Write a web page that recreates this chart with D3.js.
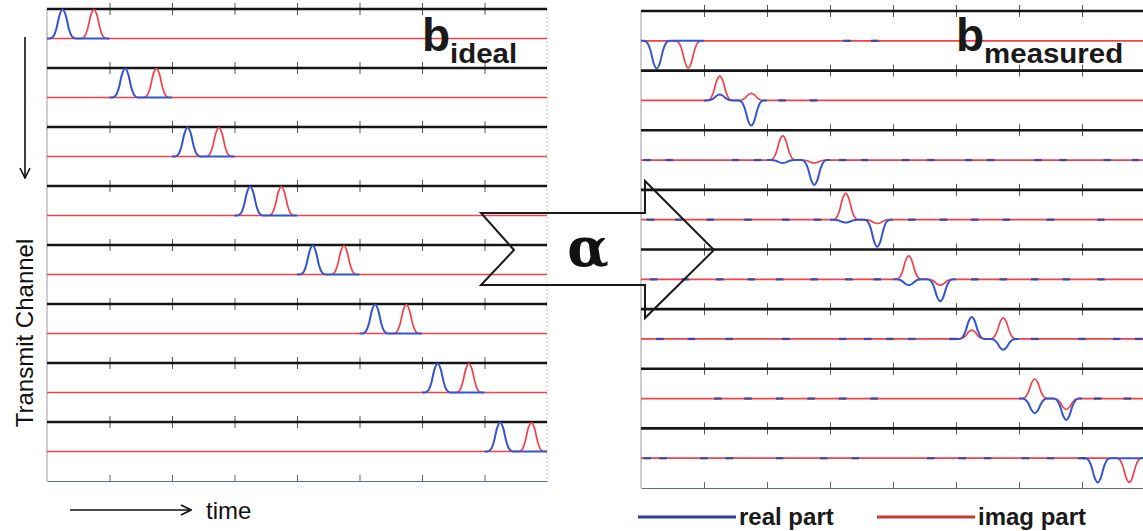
<!DOCTYPE html>
<html>
<head>
<meta charset="utf-8">
<script src="https://cdn.jsdelivr.net/npm/d3@7"></script>
<style>
  body { margin: 0; background: #fff; }
  svg { display: block; }
</style>
</head>
<body>
<div id="chart"></div>
<script>
// ---- data ----
const channels = [0, 1, 2, 3, 4, 5, 6, 7];
const timeTicks = [1, 2, 3, 4, 5, 6, 7];
const timeDomain = [0, 8];

// pulse template (offset in time units -> relative height)
const pulseOffsets = [-0.2, -0.15, -0.1, -0.05, 0, 0.05, 0.1, 0.15, 0.2];
const pulseShape = [0, 0.07, 0.34, 0.8, 1, 0.8, 0.34, 0.07, 0];

// ideal: one real and one imag pulse per channel
const idealRealCenter = [0.25, 1.25, 2.25, 3.25, 4.25, 5.25, 6.25, 7.25];
const idealImagCenter = [0.75, 1.75, 2.75, 3.75, 4.75, 5.75, 6.75, 7.75];
const idealAmp = [1, 1, 1, 1, 1, 1, 1, 1];

// measured: [center, amplitude] per channel
const measuredReal = [
  [[0.25, -0.95]],
  [[1.25, 0.2], [1.75, -0.86]],
  [[2.25, -0.1], [2.75, -0.85]],
  [[3.25, -0.1], [3.75, -0.93]],
  [[4.25, -0.2], [4.75, -0.75]],
  [[5.25, 0.75], [5.75, -0.37]],
  [[6.25, -0.5], [6.75, -0.73]],
  [[7.25, -0.83]]
];
const measuredImag = [
  [[0.75, -0.93]],
  [[1.25, 0.83], [1.75, 0.24]],
  [[2.25, 0.83], [2.75, -0.1]],
  [[3.25, 0.9], [3.75, -0.13]],
  [[4.25, 0.8], [4.75, -0.2]],
  [[5.25, 0.3], [5.75, 0.72]],
  [[6.25, 0.67], [6.75, -0.37]],
  [[7.75, -0.83]]
];
// small residual bits of the real part along the baseline
const measuredBlips = [
  [3.27, 3.71],
  [2.24, 2.74],
  [0.1, 0.45, 1.5, 1.85, 3.2, 3.55, 4.2, 4.6, 5.2, 5.55, 6.3, 6.7, 7.4, 7.85],
  [0.15, 0.6, 1.1, 1.7, 2.3, 2.8, 4.3, 4.8, 5.3, 5.8, 6.5, 7.3],
  [0.2, 0.7, 1.25, 1.75, 2.2, 2.75, 3.3, 3.75, 5.3, 5.75, 6.25, 6.75, 7.3],
  [0.3, 0.8, 1.4, 2.3, 3.2, 3.6, 3.95, 4.3, 4.95, 6.25, 7.0, 7.55, 7.9],
  [1.22, 1.7, 2.2, 2.7, 3.2, 3.7, 7.25, 7.72],
  [0.1, 0.35, 1.0, 1.4, 2.2, 2.9, 3.4, 4.6, 5.1, 5.5, 6.1, 6.5, 7.0]
];

const W = 1143, H = 531;
const STEP = 0.05;

const svg = d3.select('#chart').append('svg')
  .attr('width', W).attr('height', H)
  .style('font-family', 'Arial, "Liberation Sans", sans-serif');

// sample a set of pulses on a grid from t0 to t1 using the template
function sampleSeries(pulses, t0, t1) {
  const n = Math.round((t1 - t0) / STEP);
  const pts = [];
  for (let j = 0; j <= n; j++) {
    const t = t0 + j * STEP;
    let v = 0;
    pulses.forEach(([c, a]) => {
      const k = Math.round((t - c) / STEP) + 4;
      if (k >= 0 && k < pulseOffsets.length) v += a * pulseShape[k];
    });
    pts.push([t, v]);
  }
  return pts;
}

function drawPanel(x, yBand, realPulses, imagPulses, blips) {
  const g = svg.append('g');
  const bw = yBand.bandwidth();
  const yAmp = d3.scaleLinear().domain([-1.02, 1.02]).range([bw, 0]);
  const line = d3.line()
    .x(d => x(d[0]))
    .y(d => yAmp(d[1]))
    .curve(d3.curveMonotoneX);

  // left / right box edges
  const top = yBand.range()[0], bottom = yBand.range()[1];
  g.append('line')
    .attr('x1', x(0)).attr('x2', x(0)).attr('y1', top).attr('y2', bottom)
    .attr('stroke', '#9a9a9a').attr('stroke-width', 1);
  g.append('line')
    .attr('x1', x(8)).attr('x2', x(8)).attr('y1', top).attr('y2', bottom)
    .attr('stroke', '#c4c4c4').attr('stroke-width', 1)
    .attr('stroke-dasharray', '2,2');

  channels.forEach(ch => {
    const row = g.append('g').attr('transform', 'translate(0,' + yBand(ch) + ')');

    // ticks crossing the top border of each subplot
    row.append('g')
      .attr('transform', 'translate(0,-6)')
      .call(d3.axisBottom(x).tickValues(timeTicks).tickFormat('').tickSizeInner(12).tickSizeOuter(0))
      .call(a => a.select('.domain').remove())
      .call(a => a.selectAll('line').attr('stroke', '#555'));

    row.append('line')
      .attr('x1', x(0)).attr('x2', x(8))
      .attr('y1', 0).attr('y2', 0)
      .attr('stroke', '#151515').attr('stroke-width', 2.6);

    // imag part over the whole time range
    row.append('path')
      .datum(sampleSeries(imagPulses[ch], timeDomain[0], timeDomain[1]))
      .attr('d', line)
      .attr('fill', 'none')
      .attr('stroke', '#f0424c')
      .attr('stroke-width', 1.7);

    // real part only in the channel's window
    row.append('path')
      .datum(sampleSeries(realPulses[ch], ch, ch + 1))
      .attr('d', line)
      .attr('fill', 'none')
      .attr('stroke', '#3555cf')
      .attr('stroke-width', 2);

    if (blips) {
      row.selectAll('.blip')
        .data(blips[ch])
        .enter()
        .append('line')
        .attr('class', 'blip')
        .attr('x1', d => x(d - 0.06)).attr('x2', d => x(d + 0.06))
        .attr('y1', yAmp(0)).attr('y2', yAmp(0))
        .attr('stroke', '#2d45a8').attr('stroke-width', 2.4)
        .attr('stroke-opacity', 0.85);
    }
  });

  // bottom axis
  g.append('g')
    .attr('transform', 'translate(0,' + bottom + ')')
    .call(d3.axisTop(x).tickValues(timeTicks).tickFormat('').tickSizeInner(6).tickSizeOuter(0))
    .call(a => a.select('.domain').attr('stroke', '#5a6a9a'))
    .call(a => a.selectAll('line').attr('stroke', '#666'));
}

// left panel: ideal
const xL = d3.scaleLinear().domain(timeDomain).range([47, 547]);
const yL = d3.scaleBand().domain(channels).range([9, 481]);
drawPanel(
  xL, yL,
  idealRealCenter.map((c, i) => [[c, idealAmp[i]]]),
  idealImagCenter.map((c, i) => [[c, idealAmp[i]]]),
  null
);

// right panel: measured
const xR = d3.scaleLinear().domain(timeDomain).range([641, 1145]);
const yR = d3.scaleBand().domain(channels).range([11, 488]);
drawPanel(xR, yR, measuredReal, measuredImag, measuredBlips);

// arrow defs
svg.append('defs').append('marker')
  .attr('id', 'head')
  .attr('viewBox', '0 0 12 12')
  .attr('refX', 11).attr('refY', 6)
  .attr('markerWidth', 12).attr('markerHeight', 12)
  .attr('markerUnits', 'userSpaceOnUse')
  .attr('orient', 'auto')
  .append('path')
  .attr('d', 'M1,1 L11,6 L1,11')
  .attr('fill', 'none').attr('stroke', '#111').attr('stroke-width', 1.6);

// transmit channel arrow + label
svg.append('line')
  .attr('x1', 25).attr('x2', 25).attr('y1', 37).attr('y2', 178)
  .attr('stroke', '#111').attr('stroke-width', 1.6)
  .attr('marker-end', 'url(#head)');
svg.append('text')
  .attr('transform', 'translate(33,333) rotate(-90)')
  .attr('text-anchor', 'middle')
  .attr('font-size', 24)
  .attr('fill', '#111')
  .text('Transmit Channel');

// time arrow + label
svg.append('line')
  .attr('x1', 70).attr('x2', 191).attr('y1', 510).attr('y2', 510)
  .attr('stroke', '#111').attr('stroke-width', 1.6)
  .attr('marker-end', 'url(#head)');
svg.append('text')
  .attr('x', 206).attr('y', 519)
  .attr('font-size', 24)
  .attr('fill', '#111')
  .text('time');

// panel titles
function title(xb, word, wordLen) {
  const t = svg.append('text').attr('font-weight', 'bold').attr('fill', '#1a1a1a');
  t.append('tspan').attr('x', xb).attr('y', 51).attr('font-size', 46).text('b');
  t.append('tspan').attr('y', 63).attr('font-size', 28)
    .attr('textLength', wordLen).attr('lengthAdjust', 'spacingAndGlyphs')
    .text(word);
}
title(422, 'ideal', 67);
title(956, 'measured', 139);

// big alpha arrow
const arrowPts = [[481, 213], [645, 213], [645, 181], [714, 250], [645, 318], [645, 285], [481, 285], [514, 250]];
svg.append('polygon')
  .attr('points', arrowPts.map(p => p.join(',')).join(' '))
  .attr('fill', 'none')
  .attr('stroke', '#1a1a1a')
  .attr('stroke-width', 2);
svg.append('text')
  .attr('x', 588).attr('y', 266)
  .attr('text-anchor', 'middle')
  .attr('font-family', '"DejaVu Serif", "Liberation Serif", serif')
  .attr('font-weight', 'bold')
  .attr('font-size', 54)
  .attr('fill', '#111')
  .text('α');

// legend
const legendItems = [
  { label: 'real part', color: '#2b3f9c', x: 638 },
  { label: 'imag part', color: '#c83a3a', x: 877 }
];
const lg = svg.selectAll('.legend').data(legendItems).enter().append('g').attr('class', 'legend');
lg.append('line')
  .attr('x1', d => d.x).attr('x2', d => d.x + 98)
  .attr('y1', 517).attr('y2', 517)
  .attr('stroke', d => d.color).attr('stroke-width', 3);
lg.append('text')
  .attr('x', d => d.x + 101).attr('y', 525)
  .attr('font-size', 24).attr('font-weight', 'bold').attr('fill', '#1a1a1a')
  .text(d => d.label);
</script>
</body>
</html>
